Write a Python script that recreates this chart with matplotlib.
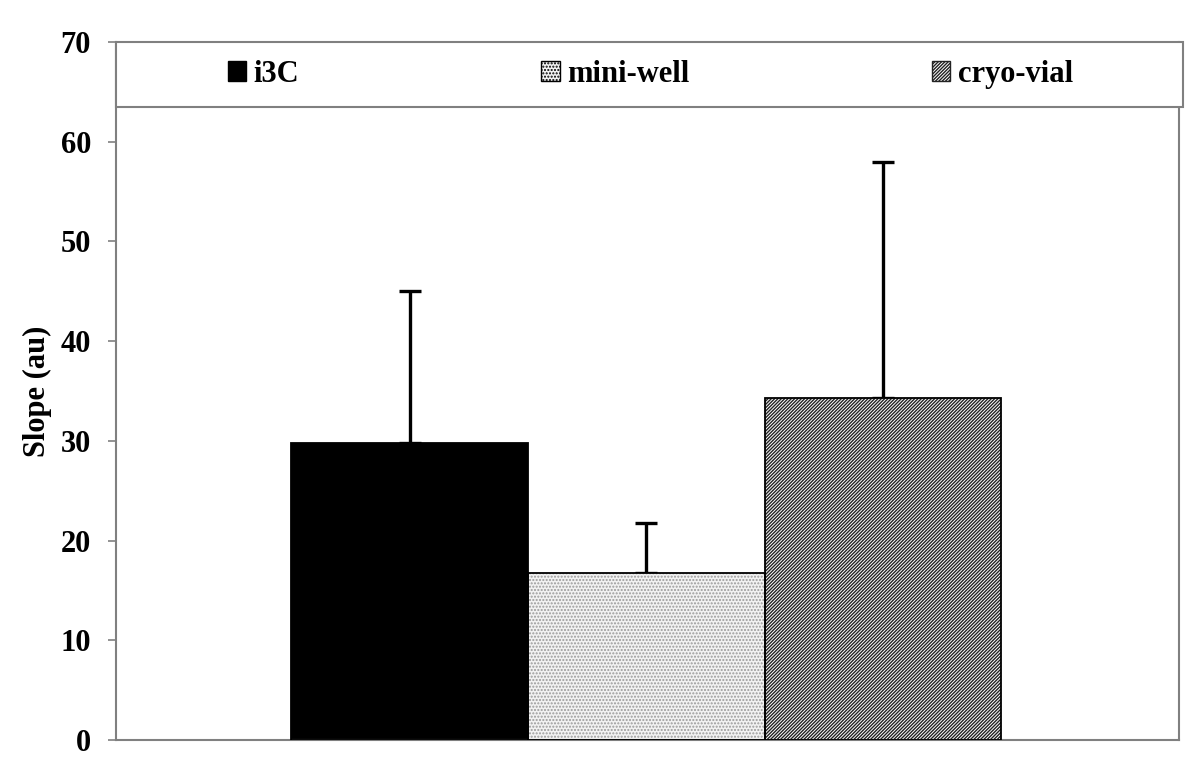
import numpy as np
import matplotlib.pyplot as plt
from matplotlib.patches import Rectangle, Patch

plt.rcParams['font.family'] = ['Liberation Serif', 'DejaVu Serif']
plt.rcParams['font.weight'] = 'bold'
plt.rcParams['hatch.linewidth'] = 1.0

categories = ['i3C', 'mini-well', 'cryo-vial']
slope = [29.8, 16.7, 34.3]
err_up = [15.2, 5.1, 23.7]
yticks = [0, 10, 20, 30, 40, 50, 60, 70]

fig = plt.figure(figsize=(12, 7.63), dpi=100)
ax = fig.add_axes([0.0967, 0.0301, 0.8858, 0.9149])

x = np.arange(len(categories))
faces = ['black', '#f2f2f2', 'white']
hatches = [None, '.....', '//////////']
hcolors = ['black', '#9a9a9a', '#222222']

for i in range(len(categories)):
    # hatch layer, then black outline on top
    ax.bar(x[i], slope[i], width=1.0, color=faces[i], hatch=hatches[i],
           edgecolor=hcolors[i], linewidth=0, zorder=2)
    ax.bar(x[i], slope[i], width=1.0, fill=False, edgecolor='black',
           linewidth=1.3, zorder=3)

ax.errorbar(x, slope, yerr=[np.zeros(3), err_up], fmt='none', ecolor='black',
            elinewidth=2.4, capsize=8, capthick=2.4, zorder=1)

ax.set_xlim(-1.24, 3.25)
ax.set_ylim(0, 70)
ax.set_yticks(yticks)
ax.set_xticks([])
ax.tick_params(axis='y', length=6, width=1.2, color='#808080', labelsize=22, pad=12)
for lab in ax.get_yticklabels():
    lab.set_fontweight('bold')
for s in ax.spines.values():
    s.set_color('#808080')
    s.set_linewidth(1.5)
ax.spines['top'].set_visible(False)

ax.set_ylabel('Slope (au)', fontsize=22, fontweight='bold', labelpad=6)

# legend frame across the top of the plot
frame = Rectangle((0, 0.907), 1.004, 0.093, transform=ax.transAxes,
                  facecolor='white', edgecolor='#808080', linewidth=1.5,
                  clip_on=False, zorder=4)
ax.add_patch(frame)

handles = [
    Patch(facecolor='black', edgecolor='black', label=categories[0]),
    Patch(facecolor='#f2f2f2', edgecolor='#888888', hatch='.....', label=categories[1]),
    Patch(facecolor='white', edgecolor='#222222', hatch='//////////', label=categories[2]),
]
leg = ax.legend(handles=handles, loc='center left', ncol=3, mode='expand',
                bbox_to_anchor=(0.105, 0.907, 0.795, 0.093), frameon=False,
                prop={'family': 'Liberation Serif', 'weight': 'bold', 'size': 22},
                handlelength=0.6, handleheight=0.6, handletextpad=0.25,
                borderpad=0, borderaxespad=0)
leg.set_zorder(5)
for h in leg.legend_handles:
    h.set_linewidth(1.0)
leg.legend_handles[1].set_edgecolor('black')

fig.savefig('out.png', dpi=100)
